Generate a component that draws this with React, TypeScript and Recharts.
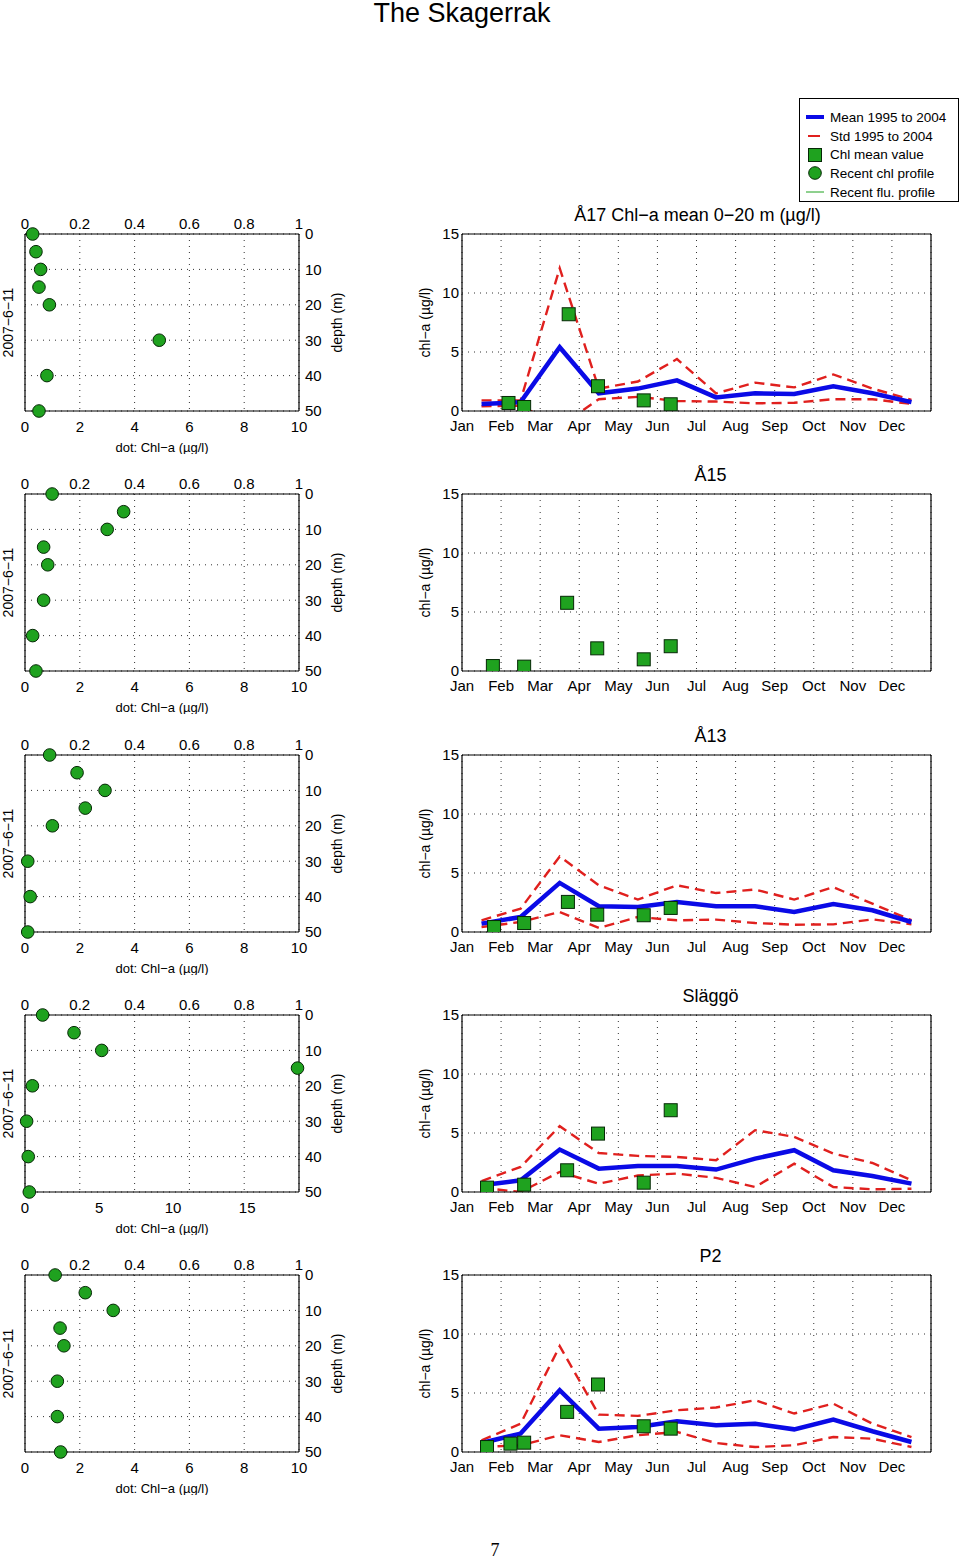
import React from "react";
import {
  ComposedChart,
  Scatter,
  Line,
  XAxis,
  YAxis,
  CartesianGrid,
} from "recharts";

// ---- data ----
const MONTHS = ["Jan", "Feb", "Mar", "Apr", "May", "Jun", "Jul", "Aug", "Sep", "Oct", "Nov", "Dec"];
const MONTH_TICKS = [0, 1, 2, 3, 4, 5, 6, 7, 8, 9, 10, 11];
const MONTH_MID = [0.5, 1.5, 2.5, 3.5, 4.5, 5.5, 6.5, 7.5, 8.5, 9.5, 10.5, 11.5];
const CHL_TICKS = [0, 5, 10, 15];

const DEPTHS = [0, 5, 10, 15, 20, 30, 40, 50];
const DEPTH_TICKS = [0, 10, 20, 30, 40, 50];
const FLU_TICKS = [0, 0.2, 0.4, 0.6, 0.8, 1];
const PROFILE_TICKS_10 = [0, 2, 4, 6, 8, 10];
const PROFILE_TICKS_SLAGGO = [0, 5, 10, 15];
const PROFILE_DATE = "2007−6−11";

const TITLES = ["Å17 Chl−a mean 0−20 m (µg/l)", "Å15", "Å13", "Släggö", "P2"];

// recent chl profile (µg/l) at DEPTHS
const A17_PROFILE = [0.28, 0.4, 0.57, 0.51, 0.89, 4.9, 0.8, 0.51];
const A15_PROFILE = [0.99, 3.6, 3.0, 0.68, 0.83, 0.68, 0.28, 0.4];
const A13_PROFILE = [0.9, 1.9, 2.92, 2.2, 1.0, 0.1, 0.19, 0.1];
const SLAGGO_PROFILE = [1.19, 3.31, 5.18, 18.4, 0.5, 0.11, 0.22, 0.29];
const P2_PROFILE = [1.1, 2.2, 3.22, 1.28, 1.42, 1.18, 1.18, 1.3];

// monthly mean 1995-2004 and mean +/- std
const A17_MEAN = [0.6, 0.75, 5.4, 1.5, 1.9, 2.6, 1.15, 1.5, 1.45, 2.1, 1.5, 0.75];
const A17_UPPER = [0.9, 0.9, 12.1, 1.9, 2.5, 4.4, 1.5, 2.4, 2.0, 3.1, 1.9, 0.95];
const A17_LOWER = [0.4, 0.45, -1.3, 1.0, 1.2, 0.85, 0.8, 0.65, 0.7, 1.0, 1.0, 0.6];

const A13_MEAN = [0.71, 1.27, 4.16, 2.18, 2.12, 2.55, 2.18, 2.18, 1.7, 2.36, 1.84, 0.85];
const A13_UPPER = [0.99, 1.98, 6.4, 3.96, 2.75, 3.96, 3.3, 3.6, 2.75, 3.8, 2.4, 1.0];
const A13_LOWER = [0.42, 0.85, 1.7, 0.34, 1.27, 0.99, 1.05, 0.76, 0.62, 0.65, 1.07, 0.65];

const SLAGGO_MEAN = [0.57, 0.99, 3.6, 1.98, 2.2, 2.2, 1.9, 2.83, 3.54, 1.84, 1.36, 0.71];
const SLAGGO_UPPER = [0.93, 2.12, 5.58, 3.3, 3.06, 2.97, 2.69, 5.24, 4.67, 3.26, 2.46, 0.99];
const SLAGGO_LOWER = [0.35, 0.0, 1.7, 0.7, 1.4, 1.56, 1.2, 0.42, 2.4, 0.42, 0.23, 0.28];

const P2_MEAN = [0.76, 1.56, 5.24, 1.98, 2.12, 2.6, 2.26, 2.4, 1.92, 2.75, 1.76, 0.85];
const P2_UPPER = [0.99, 2.4, 8.97, 3.17, 3.06, 3.54, 3.77, 4.39, 3.26, 4.1, 2.4, 1.27];
const P2_LOWER = [0.42, 0.57, 1.42, 0.85, 1.42, 1.7, 0.76, 0.42, 0.57, 1.27, 1.13, 0.42];

// chl mean value samples: month position and value
const A17_SAMPLE_T = [1.19, 1.59, 2.73, 3.48, 4.65, 5.34];
const A17_SAMPLE_V = [0.68, 0.34, 8.2, 2.1, 0.9, 0.57];
const A15_SAMPLE_T = [0.79, 1.59, 2.69, 3.46, 4.65, 5.34];
const A15_SAMPLE_V = [0.42, 0.37, 5.78, 1.92, 0.99, 2.1];
const A13_SAMPLE_T = [0.82, 1.59, 2.71, 3.46, 4.65, 5.34];
const A13_SAMPLE_V = [0.42, 0.76, 2.55, 1.47, 1.42, 2.04];
const SLAGGO_SAMPLE_T = [0.64, 1.59, 2.69, 3.48, 4.65, 5.34];
const SLAGGO_SAMPLE_V = [0.37, 0.62, 1.84, 4.95, 0.79, 6.93];
const P2_SAMPLE_T = [0.64, 1.24, 1.59, 2.69, 3.48, 4.65, 5.34];
const P2_SAMPLE_V = [0.42, 0.71, 0.79, 3.4, 5.72, 2.18, 1.98];

// ---- styling ----
const BLUE = "#0a0ae6";
const RED = "#e0201e";
const GREEN = "#1fa21f";
const FONT = "'Liberation Sans', Arial, Helvetica, sans-serif";
const tickStyle = { fill: "#000", fontSize: 15 };
const axisLine = { stroke: "#000", strokeWidth: 1.2 };

const toXY = (xs: number[], ys: number[]) => xs.map((x, i) => ({ x, y: ys[i] }));

const ProfileDot = (p: any) => (
  <circle cx={p.cx} cy={p.cy} r={6.3} fill={GREEN} stroke="#062806" strokeWidth={1} />
);
const SampleSquare = (p: any) => (
  <rect x={p.cx - 6.5} y={p.cy - 6.5} width={13} height={13} fill={GREEN} stroke="#062806" strokeWidth={1} />
);

function ProfilePlot({ chl, maxChl, ticks, top }: { chl: number[]; maxChl: number; ticks: number[]; top: number }) {
  const data = toXY(chl, DEPTHS);
  return (
    <div style={{ position: "absolute", left: 0, top: top - 40 }}>
      <ComposedChart width={350} height={260} data={data} margin={{ top: 18, right: 6, bottom: 0, left: 0 }}>
        <CartesianGrid xAxisId="flu" yAxisId="depth" stroke="#333" strokeDasharray="1 5" />
        <XAxis
          xAxisId="chl"
          type="number"
          dataKey="x"
          domain={[0, maxChl]}
          ticks={ticks}
          height={43}
          tick={tickStyle}
          tickLine={false}
          tickSize={0}
          tickMargin={10}
          axisLine={axisLine}
          label={{ value: "dot: Chl−a (µg/l)", position: "insideBottom", offset: 2, style: { fill: "#000", fontSize: 13 } }}
        />
        {/* fluorescence axis (no flu profile in this issue) */}
        <XAxis
          xAxisId="flu"
          type="number"
          dataKey="x"
          orientation="top"
          domain={[0, 1]}
          allowDataOverflow
          ticks={FLU_TICKS}
          interval={0}
          height={22}
          tick={tickStyle}
          tickLine={false}
          tickSize={0}
          tickMargin={5}
          axisLine={axisLine}
        />
        <YAxis
          yAxisId="date"
          type="number"
          dataKey="y"
          domain={[0, 50]}
          allowDataOverflow
          reversed
          width={25}
          tick={false}
          tickLine={false}
          axisLine={axisLine}
          label={{ value: PROFILE_DATE, angle: -90, position: "insideLeft", offset: 8, style: { textAnchor: "middle", fill: "#000", fontSize: 14 } }}
        />
        <YAxis
          yAxisId="depth"
          type="number"
          dataKey="y"
          orientation="right"
          domain={[0, 50]}
          ticks={DEPTH_TICKS}
          reversed
          width={45}
          tick={tickStyle}
          tickLine={false}
          tickSize={0}
          tickMargin={6}
          axisLine={axisLine}
          label={{ value: "depth (m)", angle: -90, position: "insideRight", offset: 7, style: { textAnchor: "middle", fill: "#000", fontSize: 14 } }}
        />
        <Scatter xAxisId="chl" yAxisId="depth" shape={ProfileDot} isAnimationActive={false} />
      </ComposedChart>
    </div>
  );
}

interface SeasonProps {
  title: string;
  titleDx: number;
  top: number;
  mean?: number[];
  upper?: number[];
  lower?: number[];
  sampleT: number[];
  sampleV: number[];
}

function SeasonPlot({ title, titleDx, top, mean, upper, lower, sampleT, sampleV }: SeasonProps) {
  return (
    <div style={{ position: "absolute", left: 410, top: top - 40 }}>
      <ComposedChart width={540} height={247} data={toXY(sampleT, sampleV)} margin={{ top: 39, right: 18, bottom: 0, left: 0 }}>
        <CartesianGrid xAxisId="m" yAxisId="v" stroke="#333" strokeDasharray="1 5" />
        <XAxis
          xAxisId="m"
          type="number"
          dataKey="x"
          domain={[0, 12]}
          ticks={MONTH_TICKS}
          interval={0}
          tickFormatter={(v: number) => MONTHS[v]}
          allowDataOverflow
          height={30}
          tick={tickStyle}
          tickLine={false}
          tickSize={0}
          tickMargin={9}
          axisLine={axisLine}
        />
        <XAxis
          xAxisId="box"
          type="number"
          dataKey="x"
          orientation="top"
          domain={[0, 12]}
          allowDataOverflow
          height={1}
          tick={false}
          tickLine={false}
          axisLine={axisLine}
          label={{ value: title, position: "top", offset: 12, dx: titleDx, style: { fill: "#000", fontSize: 18 } }}
        />
        <YAxis
          yAxisId="v"
          type="number"
          dataKey="y"
          domain={[0, 15]}
          ticks={CHL_TICKS}
          allowDataOverflow
          width={52}
          tick={tickStyle}
          tickLine={false}
          tickSize={0}
          tickMargin={3}
          axisLine={axisLine}
          label={{ value: "chl−a (µg/l)", angle: -90, position: "insideLeft", offset: 15, style: { textAnchor: "middle", fill: "#000", fontSize: 14 } }}
        />
        <YAxis
          yAxisId="boxR"
          type="number"
          dataKey="y"
          orientation="right"
          domain={[0, 15]}
          allowDataOverflow
          width={1}
          tick={false}
          tickLine={false}
          axisLine={axisLine}
        />
        {upper && (
          <Line xAxisId="m" yAxisId="v" data={toXY(MONTH_MID, upper)} dataKey="y" type="linear" stroke={RED} strokeWidth={2.4} strokeDasharray="10 6" dot={false} isAnimationActive={false} />
        )}
        {lower && (
          <Line xAxisId="m" yAxisId="v" data={toXY(MONTH_MID, lower)} dataKey="y" type="linear" stroke={RED} strokeWidth={2.4} strokeDasharray="10 6" dot={false} isAnimationActive={false} />
        )}
        {mean && (
          <Line xAxisId="m" yAxisId="v" data={toXY(MONTH_MID, mean)} dataKey="y" type="linear" stroke={BLUE} strokeWidth={4.5} dot={false} isAnimationActive={false} />
        )}
        <Scatter xAxisId="m" yAxisId="v" shape={SampleSquare} isAnimationActive={false} />
      </ComposedChart>
    </div>
  );
}

function LegendBox() {
  const row = { display: "flex", alignItems: "center", height: 18.7 };
  const icon = { width: 30, display: "flex", justifyContent: "center" };
  return (
    <div
      style={{
        position: "absolute",
        left: 799,
        top: 98,
        width: 160,
        height: 104,
        border: "1px solid #000",
        background: "#fff",
        fontSize: 13.5,
        paddingTop: 9,
        boxSizing: "border-box",
      }}
    >
      <div style={row}>
        <div style={icon}><svg width={18} height={6}><line x1={0} y1={3} x2={18} y2={3} stroke={BLUE} strokeWidth={4} /></svg></div>
        <span>Mean 1995 to 2004</span>
      </div>
      <div style={row}>
        <div style={icon}><svg width={18} height={6}><line x1={2} y1={3} x2={14} y2={3} stroke={RED} strokeWidth={2} /></svg></div>
        <span>Std 1995 to 2004</span>
      </div>
      <div style={row}>
        <div style={icon}><svg width={16} height={16}><rect x={1.5} y={1.5} width={13} height={13} fill={GREEN} stroke="#062806" /></svg></div>
        <span>Chl mean value</span>
      </div>
      <div style={row}>
        <div style={icon}><svg width={16} height={16}><circle cx={8} cy={8} r={6.3} fill={GREEN} stroke="#062806" /></svg></div>
        <span>Recent chl profile</span>
      </div>
      <div style={row}>
        <div style={icon}><svg width={18} height={6}><line x1={0} y1={3} x2={18} y2={3} stroke={GREEN} strokeWidth={1} /></svg></div>
        <span>Recent flu. profile</span>
      </div>
    </div>
  );
}

const ROW_TOPS = [234, 494, 755, 1015, 1275];

export default function App() {
  return (
    <div style={{ position: "absolute", left: 0, top: 0, width: 960, height: 1560, background: "#fff", fontFamily: FONT, color: "#000" }}>
      <div style={{ position: "absolute", left: 262, width: 400, top: -3, textAlign: "center", fontSize: 27, lineHeight: "32px" }}>
        The Skagerrak
      </div>

      <ProfilePlot chl={A17_PROFILE} maxChl={10} ticks={PROFILE_TICKS_10} top={ROW_TOPS[0]} />
      <ProfilePlot chl={A15_PROFILE} maxChl={10} ticks={PROFILE_TICKS_10} top={ROW_TOPS[1]} />
      <ProfilePlot chl={A13_PROFILE} maxChl={10} ticks={PROFILE_TICKS_10} top={ROW_TOPS[2]} />
      <ProfilePlot chl={SLAGGO_PROFILE} maxChl={18.5} ticks={PROFILE_TICKS_SLAGGO} top={ROW_TOPS[3]} />
      <ProfilePlot chl={P2_PROFILE} maxChl={10} ticks={PROFILE_TICKS_10} top={ROW_TOPS[4]} />

      <SeasonPlot title={TITLES[0]} titleDx={1} top={ROW_TOPS[0]} mean={A17_MEAN} upper={A17_UPPER} lower={A17_LOWER} sampleT={A17_SAMPLE_T} sampleV={A17_SAMPLE_V} />
      <SeasonPlot title={TITLES[1]} titleDx={14} top={ROW_TOPS[1]} sampleT={A15_SAMPLE_T} sampleV={A15_SAMPLE_V} />
      <SeasonPlot title={TITLES[2]} titleDx={14} top={ROW_TOPS[2]} mean={A13_MEAN} upper={A13_UPPER} lower={A13_LOWER} sampleT={A13_SAMPLE_T} sampleV={A13_SAMPLE_V} />
      <SeasonPlot title={TITLES[3]} titleDx={14} top={ROW_TOPS[3]} mean={SLAGGO_MEAN} upper={SLAGGO_UPPER} lower={SLAGGO_LOWER} sampleT={SLAGGO_SAMPLE_T} sampleV={SLAGGO_SAMPLE_V} />
      <SeasonPlot title={TITLES[4]} titleDx={14} top={ROW_TOPS[4]} mean={P2_MEAN} upper={P2_UPPER} lower={P2_LOWER} sampleT={P2_SAMPLE_T} sampleV={P2_SAMPLE_V} />

      <LegendBox />

      <div style={{ position: "absolute", left: 480, width: 30, top: 1539, textAlign: "center", fontFamily: "'Liberation Serif', 'DejaVu Serif', serif", fontSize: 18, lineHeight: "22px" }}>
        7
      </div>
    </div>
  );
}
